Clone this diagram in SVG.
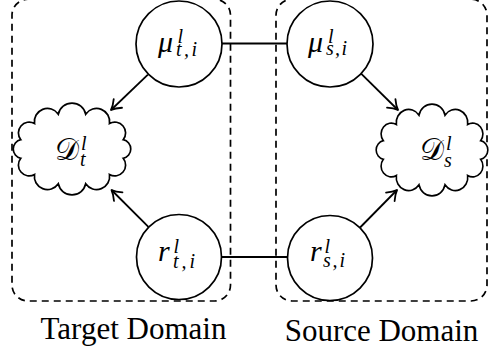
<svg xmlns="http://www.w3.org/2000/svg" width="489" height="356" viewBox="0 0 489 356">
<style>
.box{fill:none;stroke:#000;stroke-width:1.7;stroke-dasharray:7 5}
.node{fill:#fff;stroke:#000;stroke-width:1.7}
.edge{fill:none;stroke:#000;stroke-width:1.8}
.m{font-family:"Liberation Serif","Times New Roman",serif;font-style:italic;fill:#000}
.big{font-size:30px}
.sm{font-size:20px}
.cal{font-family:"DejaVu Serif","DejaVu Sans","Liberation Serif",serif;font-style:normal;font-size:30px;fill:#000}
.lbl{font-family:"Liberation Serif","Times New Roman",serif;font-size:31px;fill:#000;text-anchor:middle}
</style>
<defs>
<marker id="arr" viewBox="-12 -8 14 16" refX="0" refY="0" markerWidth="14" markerHeight="16" markerUnits="userSpaceOnUse" orient="auto">
<path d="M-9.5,-6 C-6,-3 -2.5,-0.9 0,0 C-2.5,0.9 -6,3 -9.5,6" fill="none" stroke="#000" stroke-width="1.8" stroke-linecap="round" stroke-linejoin="round"/>
</marker>
<path id="cloud" d="M123.2,139.7 A9.5,9.5 0 0 1 123.2,158.3 A10.8,10.8 0 0 1 109.5,174.5 A13.1,13.1 0 0 1 85.7,183.8 A14,14 0 0 1 58.3,183.8 A13.1,13.1 0 0 1 34.5,174.5 A10.8,10.8 0 0 1 20.8,158.3 A9.5,9.5 0 0 1 20.8,139.7 A10.8,10.8 0 0 1 34.5,123.5 A13.1,13.1 0 0 1 58.3,114.2 A14,14 0 0 1 85.7,114.2 A13.1,13.1 0 0 1 109.5,123.5 A10.8,10.8 0 0 1 123.2,139.7 Z"/>
</defs>

<g id="target-domain">
<rect class="box" x="12" y="-0.8" width="218.5" height="301.8" rx="16" ry="16"/>
<text class="lbl" x="133.5" y="339">Target Domain</text>
</g>
<g id="source-domain">
<rect class="box" x="276" y="-0.8" width="211" height="301.8" rx="16" ry="16"/>
<text class="lbl" x="381.5" y="341">Source Domain</text>
</g>

<g id="connectors">
<line class="edge" x1="222" y1="43.5" x2="287" y2="43.5"/>
<line class="edge" x1="222" y1="257" x2="287" y2="257"/>
<line class="edge" x1="147.9" y1="74.7" x2="111" y2="110" marker-end="url(#arr)"/>
<line class="edge" x1="361.1" y1="73.7" x2="398" y2="110" marker-end="url(#arr)"/>
<line class="edge" x1="148.4" y1="226.8" x2="111.5" y2="190" marker-end="url(#arr)"/>
<line class="edge" x1="360.1" y1="227.5" x2="397" y2="190" marker-end="url(#arr)"/>
</g>

<g id="mu_t">
<circle class="node" cx="179" cy="44" r="43"/>
<text class="m big" x="158" y="52">μ</text>
<text class="m sm" x="177.5" y="43">l</text>
<text class="m sm" x="176" y="56" textLength="21" lengthAdjust="spacing">t,i</text>
</g>
<g id="mu_s">
<circle class="node" cx="330" cy="44" r="43"/>
<text class="m big" x="308" y="52">μ</text>
<text class="m sm" x="328" y="43">l</text>
<text class="m sm" x="326" y="55" textLength="21" lengthAdjust="spacing">s,i</text>
</g>
<g id="r_t">
<circle class="node" cx="179" cy="257" r="42.5"/>
<text class="m big" x="158" y="261">r</text>
<text class="m sm" x="173.5" y="253">l</text>
<text class="m sm" x="173" y="267.5" textLength="22" lengthAdjust="spacing">t,i</text>
</g>
<g id="r_s">
<circle class="node" cx="330" cy="258" r="42.5"/>
<text class="m big" x="310" y="261">r</text>
<text class="m sm" x="324.5" y="253">l</text>
<text class="m sm" x="323" y="266.5" textLength="22" lengthAdjust="spacing">s,i</text>
</g>
<g id="D_t">
<use href="#cloud" class="node"/>
<text class="cal" x="55" y="160">𝒟</text>
<text class="m sm" x="81" y="150">l</text>
<text class="m sm" x="80" y="166">t</text>
</g>
<g id="D_s">
<use href="#cloud" class="node" transform="translate(432,150) scale(0.95,1) translate(-72,-149)"/>
<text class="cal" x="420" y="160">𝒟</text>
<text class="m sm" x="446" y="150">l</text>
<text class="m sm" x="444" y="167">s</text>
</g>
</svg>
